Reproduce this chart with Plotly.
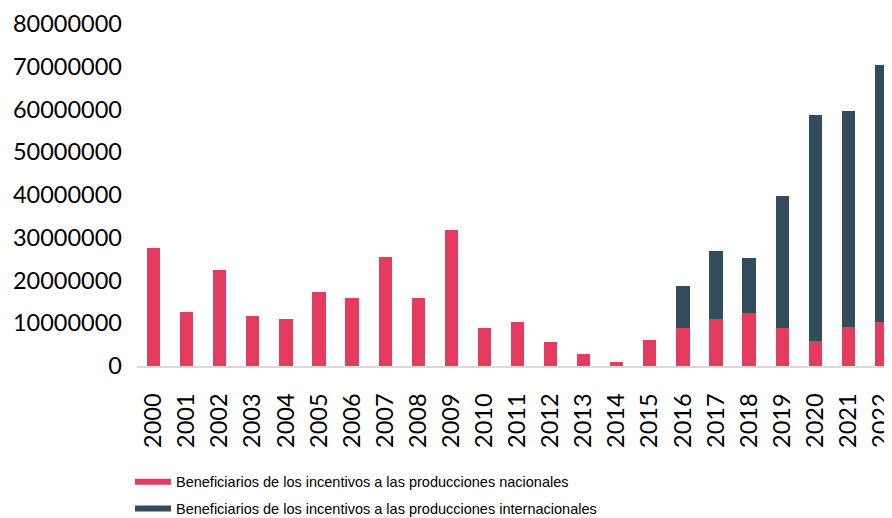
import plotly.graph_objects as go

years = [str(y) for y in range(2000, 2023)]
nacionales = [27.5, 12.7, 22.5, 11.7, 11.1, 17.3, 16.0, 25.4, 16.0, 31.9, 8.8, 10.2, 5.5, 2.8,
              1.0, 6.1, 8.8, 10.9, 12.3, 8.8, 5.8, 9.2, 10.3]
internacionales = [0, 0, 0, 0, 0, 0, 0, 0, 0, 0, 0, 0, 0, 0,
                   0, 0, 10.0, 16.0, 12.9, 30.9, 52.8, 50.4, 60.0]
nacionales = [v * 1e6 for v in nacionales]
internacionales = [v * 1e6 for v in internacionales]
yticks = [0, 10000000, 20000000, 30000000, 40000000, 50000000, 60000000, 70000000, 80000000]
name_nac = "Beneficiarios de los incentivos a las producciones nacionales"
name_int = "Beneficiarios de los incentivos a las producciones internacionales"

PINK = "#E53B5E"
DARK = "#314D5C"

fig = go.Figure()
fig.add_trace(go.Bar(x=years, y=nacionales, marker=dict(color=PINK, line=dict(width=0)),
                     showlegend=False, name=name_nac))
fig.add_trace(go.Bar(x=years, y=internacionales, marker=dict(color=DARK, line=dict(width=0)),
                     showlegend=False, name=name_int))
# legend entries drawn as long bars
fig.add_trace(go.Scatter(x=[None], y=[None], mode="lines", line=dict(color=PINK, width=6),
                         name=name_nac, legendgroup="a"))
fig.add_trace(go.Scatter(x=[None], y=[None], mode="lines", line=dict(color=DARK, width=6),
                         name=name_int, legendgroup="b"))

fig.update_layout(
    width=884, height=510,
    margin=dict(l=129, r=0, t=16, b=152, autoexpand=False),
    barmode="stack", bargap=0.6,
    paper_bgcolor="white", plot_bgcolor="white",
    font=dict(family="Lato, Liberation Sans, sans-serif", color="#000000"),
    xaxis=dict(type="category", range=[-0.5, 22.32], showgrid=False, showline=True,
               linecolor="#D9D9D9", linewidth=2, tickangle=-90, automargin=False,
               tickfont=dict(size=23.5), ticklabelstandoff=16, fixedrange=True),
    yaxis=dict(range=[0, 80000000], tickvals=yticks, ticktext=[str(v) for v in yticks],
               showgrid=False, zeroline=False, showline=False, automargin=False,
               tickfont=dict(size=23.5), ticklabelstandoff=14),
    legend=dict(orientation="v", xref="container", yref="container",
                x=0.138, y=0.1025, xanchor="left", yanchor="top",
                font=dict(size=14.5, family="Liberation Sans, sans-serif"),
                traceorder="grouped", tracegroupgap=5, itemwidth=36),
)

fig.write_html("out.html")
